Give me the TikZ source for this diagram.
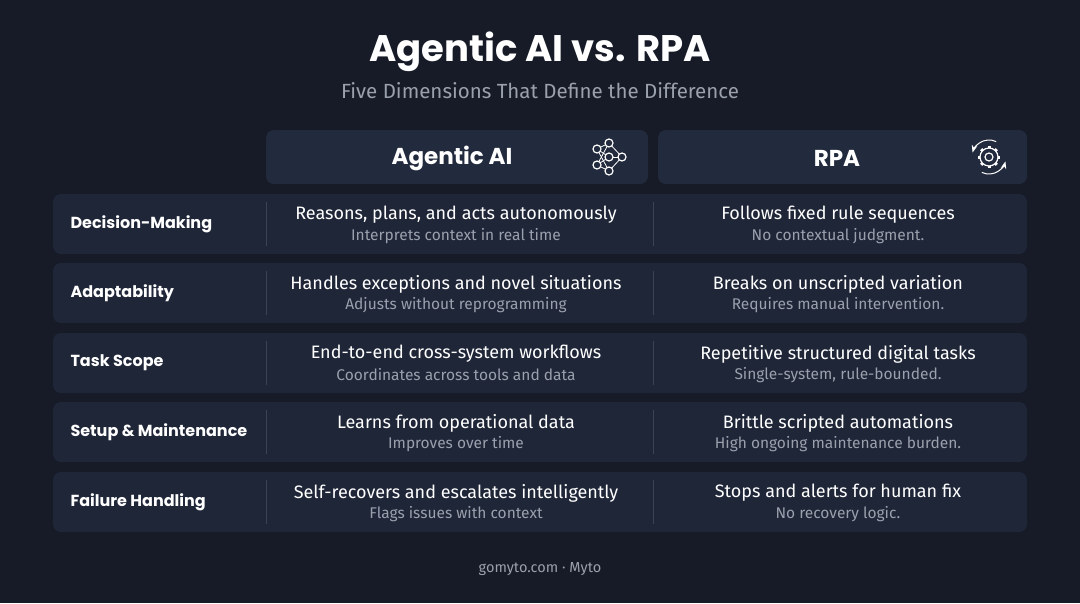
\documentclass[tikz,border=0pt]{standalone}
\usepackage{fontspec}
\setmainfont{Fira Sans}
\newfontfamily\headfont{Poppins}
\usetikzlibrary{arrows.meta}
\usetikzlibrary{positioning}
\definecolor{bgcol}{HTML}{161B27}
\definecolor{cardcol}{HTML}{1F2638}
\definecolor{headcol}{HTML}{222A3D}
\definecolor{subcol}{HTML}{9AA0AC}
\definecolor{linecol}{HTML}{3A4254}
\tikzset{
  every picture/.style={x=1pt, y=-1pt, >=Stealth},
  card/.style={fill=cardcol, rounded corners=8pt},
  head/.style={fill=headcol, rounded corners=8pt},
  rowlabel/.style={anchor=west, text=white, font=\headfont\fontsize{16}{18}\selectfont\bfseries},
  maintext/.style={text=white, font=\fontsize{18}{20}\selectfont},
  subtext/.style={text=subcol, font=\fontsize{15.5}{17}\selectfont},
  icon/.style={draw=white, line width=1.2pt}}

\begin{document}
\begin{tikzpicture}
  \fill[bgcol] (0,0) rectangle (1080,603);
  \useasboundingbox (0,0) rectangle (1080,603);

  % title
  \node[text=white, font=\headfont\fontsize{37}{40}\selectfont\bfseries] (title) at (540,52) {Agentic AI vs. RPA};
  \node[text=subcol, font=\fontsize{20.5}{23}\selectfont] (subtitle) at (540,91) {Five Dimensions That Define the Difference};

  % column heads
  \fill[head] (266,130) rectangle (648,184);
  \fill[head] (658,130) rectangle (1027,184);
  \node[text=white, font=\headfont\fontsize{23}{26}\selectfont\bfseries] (hA) at (452,158) {Agentic AI};
  \node[text=white, font=\headfont\fontsize{23}{26}\selectfont\bfseries] (hB) at (837,158) {RPA};

  % network icon
  \begin{scope}[shift={(609,157)}, icon]
    \foreach \nm/\px/\py in {na/-12/-8, nb/-12/8, nc/0/-14, nd/0/0, ne/0/14, nf/13/0}
      \coordinate (\nm) at (\px,\py);
    \foreach \s/\t in {na/nc, na/nd, na/ne, nb/nc, nb/nd, nb/ne, nc/nf, nd/nf, ne/nf}
      \draw[line width=0.8pt] (\s) -- (\t);
    \foreach \nm in {na,nb,nc,nd,ne,nf}
      \filldraw[fill=headcol] (\nm) circle (4);
  \end{scope}

  % gear icon
  \begin{scope}[shift={(989,157)}, icon]
    \foreach \a in {0,45,...,315}
      \draw[line width=3pt] (\a:8) -- (\a:11);
    \draw[fill=headcol] (0,0) circle (9);
    \draw (0,0) circle (4);
    \draw[->, line width=1pt] (115:17) arc (115:15:17);
    \draw[->, line width=1pt] (295:17) arc (295:195:17);
  \end{scope}

  % rows
  \foreach \y/\lab/\ma/\sa/\mb/\sb in {
    224/Decision-Making/{Reasons, plans, and acts autonomously}/{Interprets context in real time}/{Follows fixed rule sequences}/{No contextual judgment.},
    293/Adaptability/{Handles exceptions and novel situations}/{Adjusts without reprogramming}/{Breaks on unscripted variation}/{Requires manual intervention.},
    363/Task Scope/{End-to-end cross-system workflows}/{Coordinates across tools and data}/{Repetitive structured digital tasks}/{Single-system, rule-bounded.},
    432/{Setup \& Maintenance}/{Learns from operational data}/{Improves over time}/{Brittle scripted automations}/{High ongoing maintenance burden.},
    502/Failure Handling/{Self-recovers and escalates intelligently}/{Flags issues with context}/{Stops and alerts for human fix}/{No recovery logic.}} {
    \fill[card] (53,\y-30) rectangle (1027,\y+30);
    \draw[linecol, line width=1pt] (266,\y-22) -- (266,\y+22);
    \draw[linecol, line width=1pt] (653,\y-22) -- (653,\y+22);
    \node[rowlabel] at (67,\y) {\lab};
    \node[maintext] at (456,\y-9) {\ma};
    \node[subtext] at (456,\y+12) {\sa};
    \node[maintext] at (838,\y-9) {\mb};
    \node[subtext] at (838,\y+12) {\sb};
  }

  % footer
  \node[text=subcol, font=\fontsize{14.5}{16}\selectfont] (foot) at (540,569) {gomyto.com · Myto};
\end{tikzpicture}
\end{document}
